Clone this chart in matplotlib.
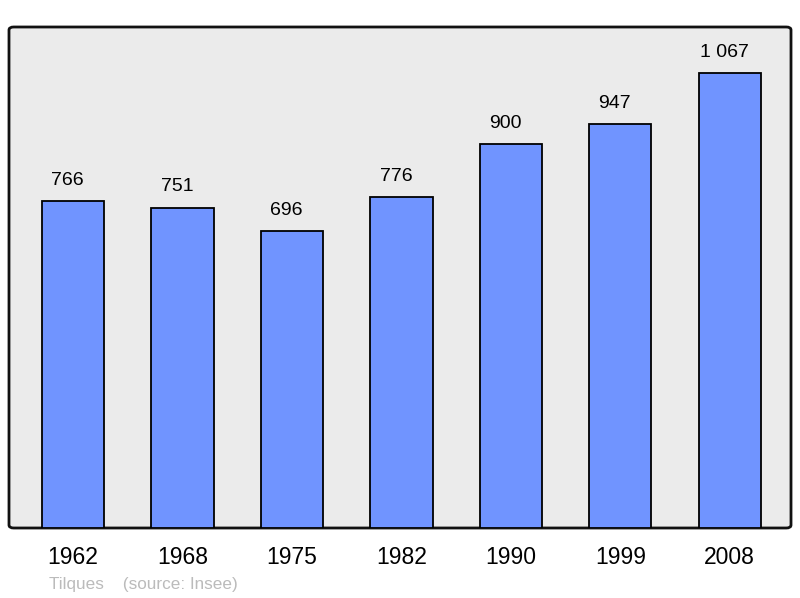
import matplotlib.pyplot as plt
from matplotlib.patches import FancyBboxPatch

years = ['1962', '1968', '1975', '1982', '1990', '1999', '2008']
population = [766, 751, 696, 776, 900, 947, 1067]
labels = ['766', '751', '696', '776', '900', '947', '1 067']

plt.rcParams['font.family'] = ['Liberation Sans', 'DejaVu Sans']

fig = plt.figure(figsize=(8, 5.98), dpi=100)
ax = fig.add_axes([9 / 800, 1 - 528 / 598, 782 / 800, 501 / 598])
ax.set_facecolor('none')

# rounded background frame
frame = FancyBboxPatch((0, 0), 1, 1, boxstyle='round,pad=0,rounding_size=0.006',
                       transform=ax.transAxes, facecolor='#ebebeb',
                       edgecolor='#111111', linewidth=2, zorder=0, clip_on=False)
ax.add_patch(frame)

x = list(range(len(years)))
ax.bar(x, population, width=0.57, color='#7094ff', edgecolor='black',
       linewidth=1.3, zorder=2)
for xi, v, lab in zip(x, population, labels):
    ax.annotate(lab, (xi, v), xytext=(-4, 9), textcoords='offset points',
                ha='center', va='bottom', fontsize=14, color='black')

ax.set_xlim(-0.585, 6.56)
ax.set_ylim(0, 1175)
for s in ax.spines.values():
    s.set_visible(False)
ax.set_yticks([])
ax.set_xticks(x)
ax.set_xticklabels(years, fontsize=16.5)
ax.tick_params(axis='x', length=0, pad=13)

fig.text(49 / 800, 1 - 584 / 598, 'Tilques    (source: Insee)', fontsize=12.3,
         color='#bbbbbb', va='center', ha='left')

fig.savefig('out.png', dpi=100)
